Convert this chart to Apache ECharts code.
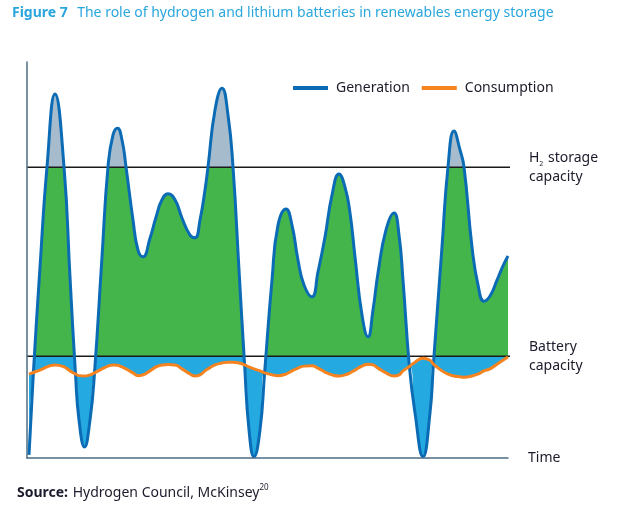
<!DOCTYPE html>
<html>
<head>
<meta charset="utf-8">
<script src="https://cdn.jsdelivr.net/npm/echarts@6/dist/echarts.min.js"></script>
<style>
html,body{margin:0;padding:0;background:#fff;}
#c{width:619px;height:510px;}
</style>
</head>
<body>
<div id="c"></div>
<script>
// Time (arbitrary units) of each sample
var times = [0.2, 0.64, 1.3, 2.0, 2.8, 3.7, 4.3, 4.85, 5.2, 5.75, 6.3, 6.75, 7.5, 8.1, 8.6, 9.05, 9.5, 9.9,
  10.6, 11.1, 11.6, 12.3, 12.9, 13.5, 14.1, 14.8, 15.5, 16.3, 16.8, 17.3, 17.8, 18.1, 18.8, 19.5,
  20.1, 20.6, 21.2, 21.76, 22.2, 22.7, 23.3, 23.76, 24.5, 25.1, 25.9, 26.5, 27.1, 27.7, 28.5, 29.1,
  29.8, 30.5, 31.2, 31.8, 32.3, 32.8, 33.5, 34.1, 34.6, 35.1, 35.9, 36.7, 37.2, 37.6, 38.24, 38.8,
  39.6, 40.3, 40.64, 41.5, 42.1, 42.7, 43.3, 43.7, 44.5, 45.1, 45.7, 46.3, 47.0, 47.6, 48.1];
// Generation level
var generation = [0.8, 21.6, 48.2, 73.5, 91.9, 73.5, 45.7, 21.2, 9.6, 2.8, 9.6, 21.5, 50.8, 73.5, 81.6, 83.3, 80.3, 73.5,
  60.1, 52.5, 50.8, 55.5, 60.8, 65.2, 66.7, 65.2, 60.6, 56.3, 55.6, 60.1, 67.7, 73.5, 87.9, 93.4,
  86.6, 73.5, 47.5, 23.5, 7.1, 0.3, 7.1, 21.5, 44.9, 58.8, 62.9, 58.8, 50.0, 43.7, 40.7, 47.0,
  55.8, 66.4, 71.7, 68.4, 61.9, 50.8, 36.1, 30.6, 37.4, 46.7, 57.6, 61.9, 56.3, 44.9, 23.1, 11.4,
  0.3, 11.4, 23.7, 53.3, 73.5, 82.6, 77.8, 73.5, 53.3, 43.7, 39.6, 40.9, 44.9, 48.5, 51.0];
// Consumption level
var consumption = [21.2, 21.6, 22.2, 23.0, 23.5, 23.0, 22.0, 21.2, 20.8, 20.7, 21.0, 21.5, 22.5, 23.2, 23.5, 23.4, 23.0, 22.5,
  21.5, 20.8, 21.0, 22.0, 23.0, 23.5, 23.6, 23.5, 22.5, 21.2, 20.7, 21.0, 22.0, 22.5, 23.5, 24.0,
  24.2, 24.2, 24.0, 23.5, 23.0, 22.5, 22.0, 21.5, 21.0, 20.8, 21.2, 22.0, 22.7, 23.2, 23.3, 22.7,
  21.7, 21.0, 20.7, 21.0, 21.5, 22.2, 23.2, 23.7, 23.5, 22.7, 21.5, 20.7, 21.0, 22.0, 23.1, 24.2,
  25.2, 24.7, 23.7, 22.0, 21.2, 20.7, 20.5, 20.4, 20.7, 21.2, 22.0, 22.5, 23.7, 24.7, 25.5];
// Capacity thresholds
var h2Capacity = 73.4;
var batteryCapacity = 25.7;
var axisRange = [0, 48.1];
var lineEnd = 48.9;

var pairs = function (arr) { return times.map(function (t, i) { return [t, arr[i]]; }); };
var genData = pairs(generation);
var conData = pairs(consumption);
var lowData = times.map(function (t, i) { return [t, Math.min(generation[i], consumption[i])]; });

var FONT = 'Noto Sans';
var TXT = '#1b1b2b';
var chart = echarts.init(document.getElementById('c'), null, {renderer: 'canvas'});
chart.setOption({
  animation: false,
  textStyle: {fontFamily: FONT},
  title: [{
    text: '{b|Figure 7}  {n|The role of hydrogen and lithium batteries in renewables energy storage}',
    left: 7, top: -1,
    textStyle: {fontWeight: 'normal', rich: {
      b: {fontFamily: FONT, fontSize: 14, fontWeight: 'bold', color: '#2aa6de'},
      n: {fontFamily: FONT, fontSize: 14, fontWeight: 'normal', color: '#2aa6de'}
    }}
  }, {
    text: '{b|Source:} {n|Hydrogen Council, McKinsey}{s|20}',
    left: 12, top: 479,
    textStyle: {fontWeight: 'normal', rich: {
      b: {fontFamily: FONT, fontSize: 14, fontWeight: 'bold', color: TXT, lineHeight: 18},
      n: {fontFamily: FONT, fontSize: 14, fontWeight: 'normal', color: TXT, lineHeight: 18},
      s: {fontFamily: FONT, fontSize: 8, fontWeight: 'normal', color: TXT, verticalAlign: 'top', lineHeight: 18, padding: [0, 0, 8, 0]}
    }}
  }],
  legend: {
    data: ['Generation', 'Consumption'],
    left: 288, top: 76,
    icon: 'rect', itemWidth: 35, itemHeight: 4, itemGap: 12,
    textStyle: {fontFamily: FONT, fontSize: 14, color: TXT, padding: [0, 0, 0, 3]}
  },
  grid: {left: 27, right: 111, top: 62, bottom: 52},
  xAxis: {
    type: 'value', min: axisRange[0], max: axisRange[1], z: 10,
    name: 'Time', nameLocation: 'end', nameGap: 20,
    nameTextStyle: {fontFamily: FONT, fontSize: 14, color: TXT, align: 'left', verticalAlign: 'middle'},
    axisLine: {show: true, lineStyle: {color: '#4b6c84', width: 1.5}},
    axisTick: {show: false}, axisLabel: {show: false}, splitLine: {show: false}
  },
  yAxis: {
    type: 'value', min: 0, max: 100, z: 10,
    axisLine: {show: true, lineStyle: {color: '#4b6c84', width: 1.5}},
    axisTick: {show: false}, axisLabel: {show: false}, splitLine: {show: false}
  },
  visualMap: {
    show: false, type: 'piecewise', seriesIndex: 1, dimension: 1,
    pieces: [
      {gte: h2Capacity, color: '#a6bccc'},
      {gte: batteryCapacity, lt: h2Capacity, color: '#43b54b'},
      {lt: batteryCapacity, color: '#24a9e1'}
    ]
  },
  series: [
    {type: 'line', data: conData, smooth: true, showSymbol: false, z: 1,
     lineStyle: {opacity: 0}, areaStyle: {color: '#24a9e1', opacity: 1, origin: 'start'}, silent: true},
    {type: 'line', data: genData, smooth: true, showSymbol: false, z: 2,
     lineStyle: {opacity: 0}, areaStyle: {opacity: 1, origin: 'start'}, silent: true},
    {type: 'line', data: lowData, smooth: true, showSymbol: false, z: 3,
     lineStyle: {opacity: 0}, areaStyle: {color: '#ffffff', opacity: 1, origin: 'start'}, silent: true},
    {type: 'line', data: [[0, h2Capacity], [lineEnd, h2Capacity]], clip: false, showSymbol: false, z: 4,
     lineStyle: {color: '#1a1a1a', width: 1.5}, silent: true,
     endLabel: {show: true, distance: 19, formatter: '{a|H}{s|2}{a| storage}\n{a|capacity}',
       rich: {a: {fontFamily: FONT, fontSize: 14, color: TXT, lineHeight: 19},
              s: {fontFamily: FONT, fontSize: 7, color: TXT, lineHeight: 19, verticalAlign: 'bottom', padding: [0, 1, 0, 0]}}}},
    {type: 'line', data: [[0, batteryCapacity], [lineEnd, batteryCapacity]], clip: false, showSymbol: false, z: 4,
     lineStyle: {color: '#1a1a1a', width: 1.5}, silent: true,
     endLabel: {show: true, distance: 19, formatter: '{a|Battery}\n{a|capacity}',
       rich: {a: {fontFamily: FONT, fontSize: 14, color: TXT, lineHeight: 19}}}},
    {name: 'Generation', type: 'line', data: genData, smooth: true, showSymbol: false, clip: false, z: 5,
     itemStyle: {color: '#0b6bb5'}, lineStyle: {color: '#0b6bb5', width: 3}},
    {name: 'Consumption', type: 'line', data: conData, smooth: true, showSymbol: false, clip: false, z: 6,
     itemStyle: {color: '#f5831f'}, lineStyle: {color: '#f5831f', width: 3}}
  ]
});
</script>
</body>
</html>
